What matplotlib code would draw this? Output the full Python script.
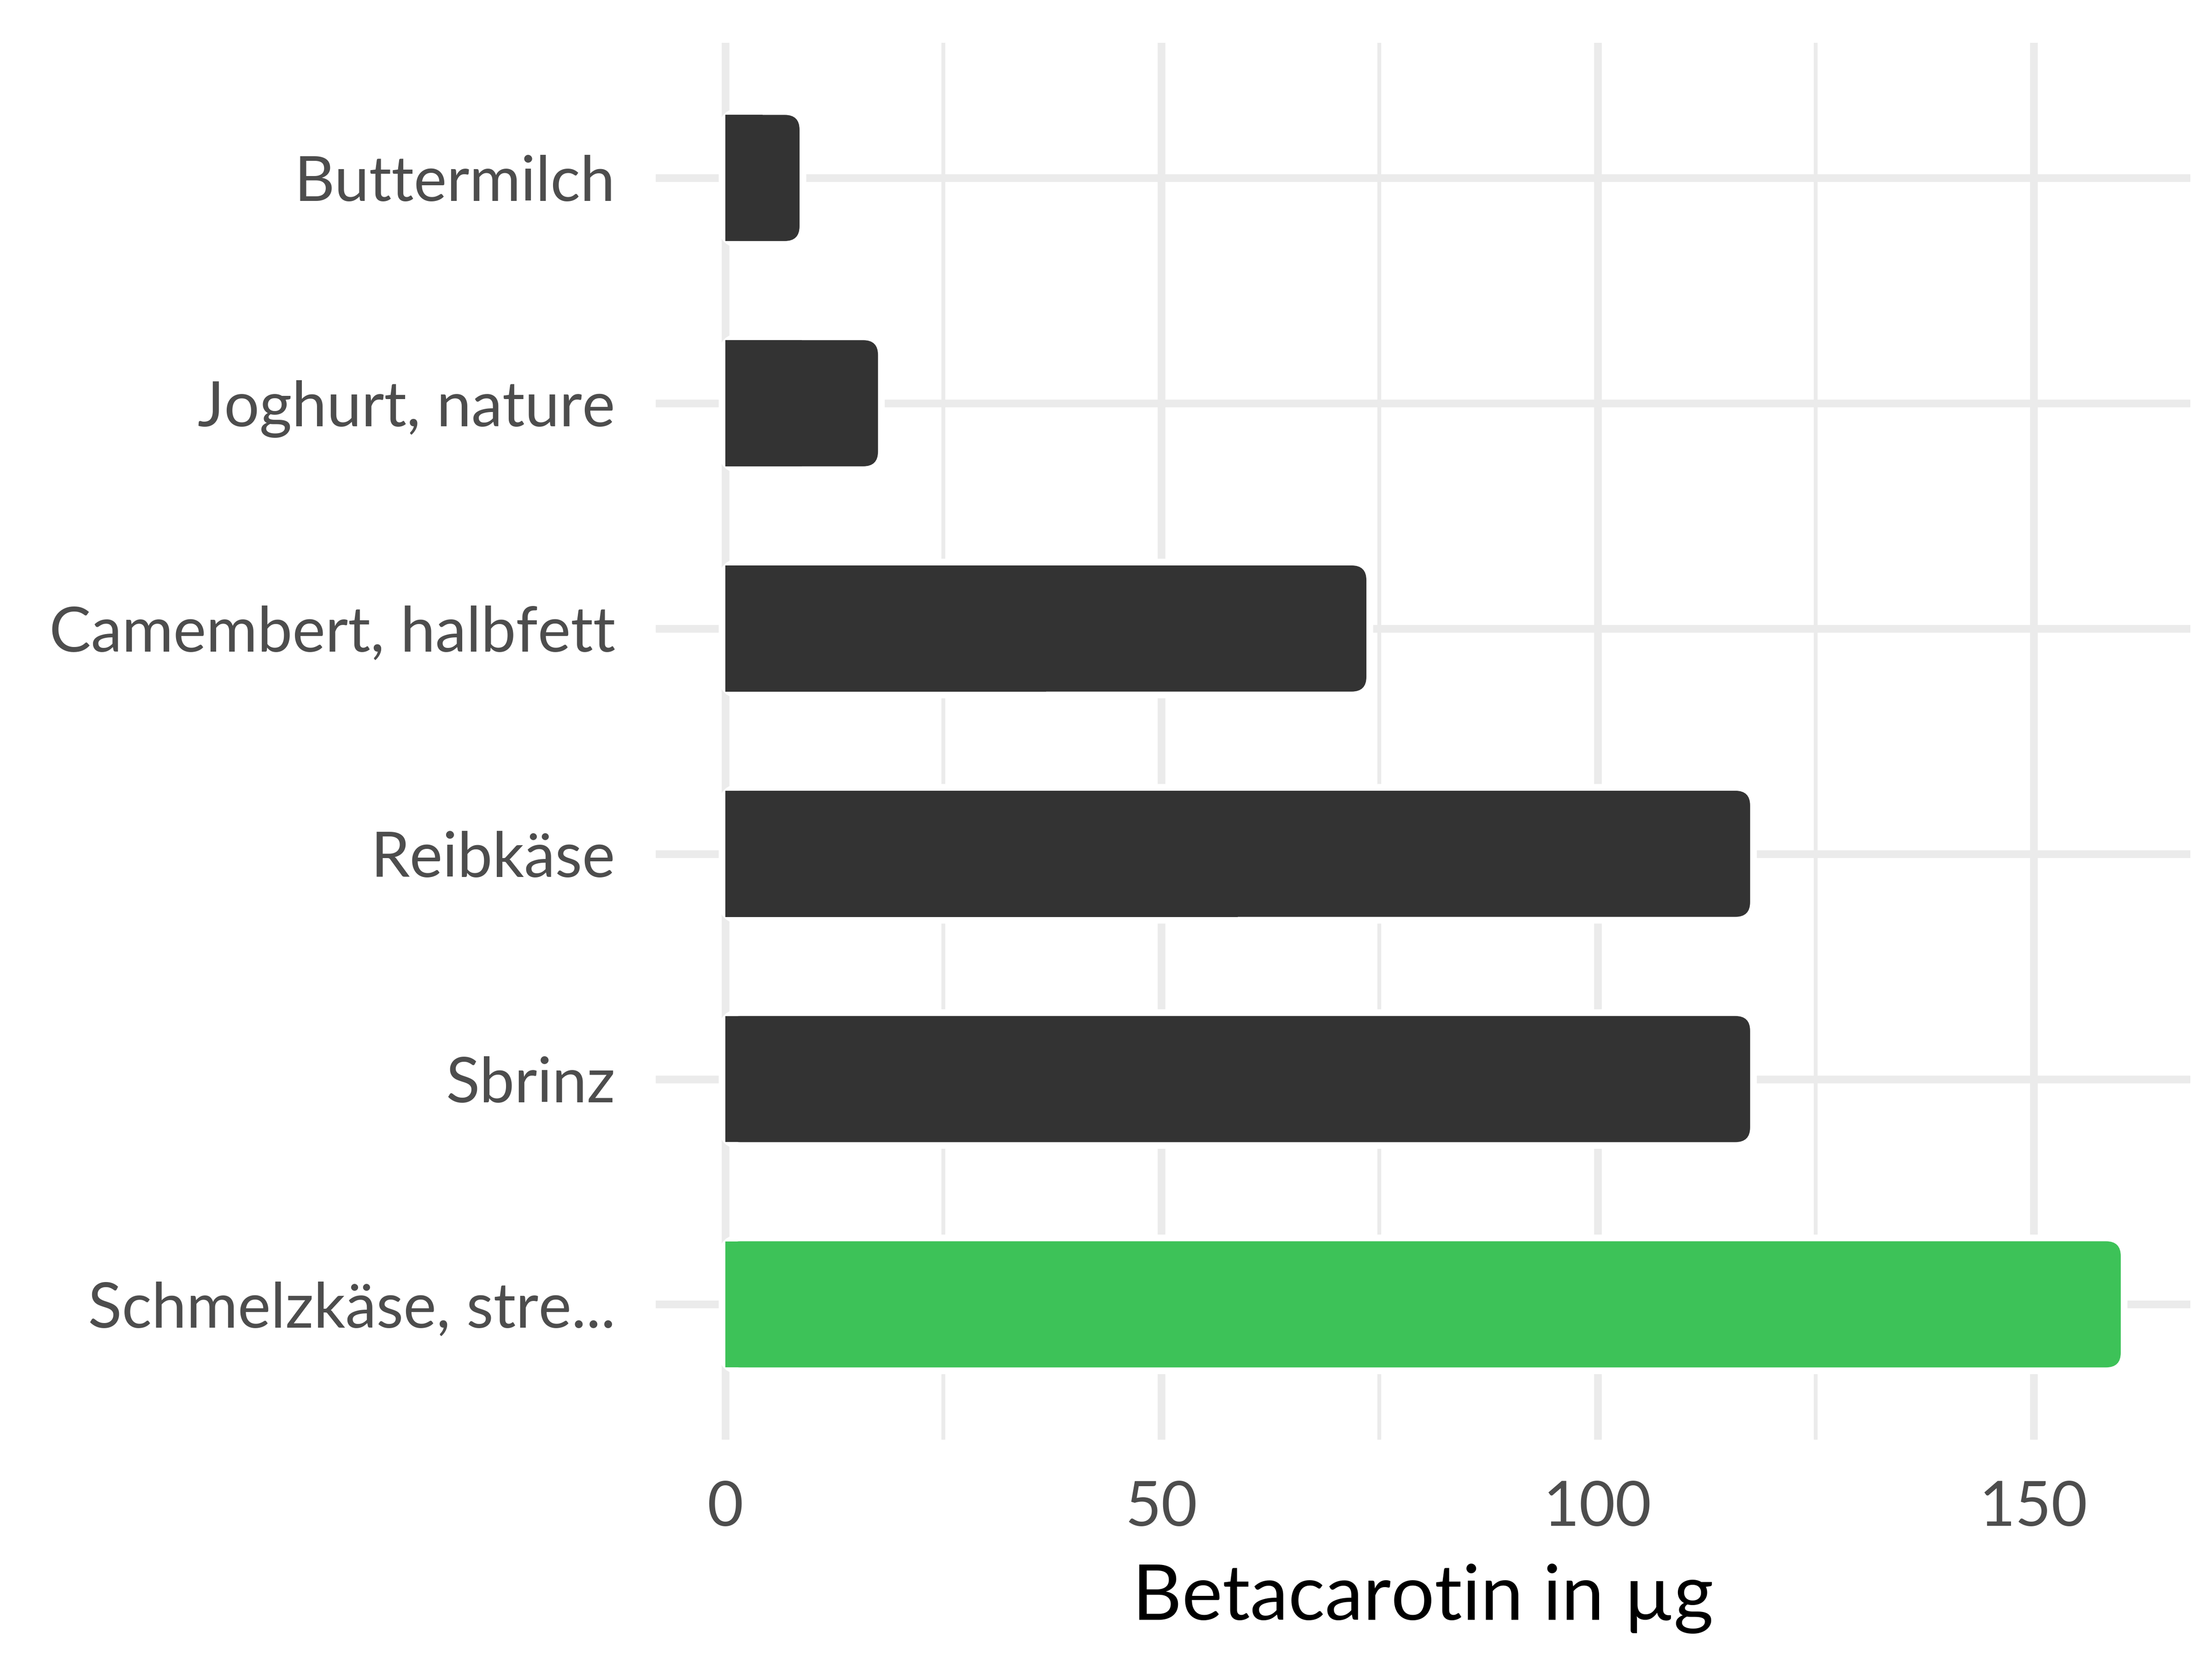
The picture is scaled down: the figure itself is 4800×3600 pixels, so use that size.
import matplotlib
matplotlib.use("Agg")
from matplotlib import pyplot as plt
from matplotlib.patches import FancyBboxPatch, Rectangle

# data (top to bottom)
foods = ["Buttermilch", "Joghurt, nature", "Camembert, halbfett",
         "Reibkäse", "Sbrinz", "Schmelzkäse, stre..."]
betacarotin = [8.5, 17.5, 73.5, 117.5, 117.5, 160]
bar_colors = ["#333333", "#333333", "#333333", "#333333", "#333333", "#3DC258"]
x_ticks = [0, 50, 100, 150]
x_minor = [25, 75, 125]
x_label = "Betacarotin in µg"

plt.rcParams["font.family"] = ["Lato", "DejaVu Sans"]

fig = plt.figure(figsize=(16, 12), dpi=300)
ax = fig.add_axes([0.2964, 0.1323, 0.9903 - 0.2964, 0.9742 - 0.1323])

n = len(foods)
ypos = list(range(n, 0, -1))
ax.set_xlim(-8, 168)
ax.set_ylim(0.4, n + 0.6)

grid_col = "#EBEBEB"
ax.set_xticks(x_ticks)
ax.set_xticks(x_minor, minor=True)
ax.set_yticks(ypos)
ax.set_yticklabels(foods)
ax.grid(True, which="major", color=grid_col, linewidth=4.0)
ax.grid(True, which="minor", axis="x", color=grid_col, linewidth=2.0)
ax.set_axisbelow(True)
for s in ax.spines.values():
    s.set_visible(False)
ax.tick_params(axis="both", which="both", length=0)
ax.tick_params(axis="y", pad=21, labelsize=32.5, labelcolor="#4D4D4D")
ax.tick_params(axis="x", pad=21, labelsize=32.5, labelcolor="#4D4D4D")
ax.set_xlabel(x_label, fontsize=40, color="black", labelpad=14)

# rounded right ends, sized in pixels
bbox = ax.get_window_extent()
px_x = bbox.width / (168 + 8)
px_y = bbox.height / (n + 0.2)
radius_px = 32
r = radius_px / px_x
aspect = px_x / px_y
h = 0.56

for y, v, c in zip(ypos, betacarotin, bar_colors):
    halo = FancyBboxPatch((0, y - h / 2), v, h,
                          boxstyle="round,pad=0,rounding_size=%f" % r,
                          mutation_aspect=aspect, facecolor="white",
                          edgecolor="white", linewidth=7.0, zorder=2)
    ax.add_patch(halo)
    bar = FancyBboxPatch((0, y - h / 2), v, h,
                         boxstyle="round,pad=0,rounding_size=%f" % r,
                         mutation_aspect=aspect, facecolor=c,
                         edgecolor="none", linewidth=0, zorder=3)
    ax.add_patch(bar)
    ax.add_patch(Rectangle((0, y - h / 2), v / 2, h, facecolor=c,
                           edgecolor="none", linewidth=0, zorder=3))

fig.savefig("out.png", dpi=300, facecolor="white")
